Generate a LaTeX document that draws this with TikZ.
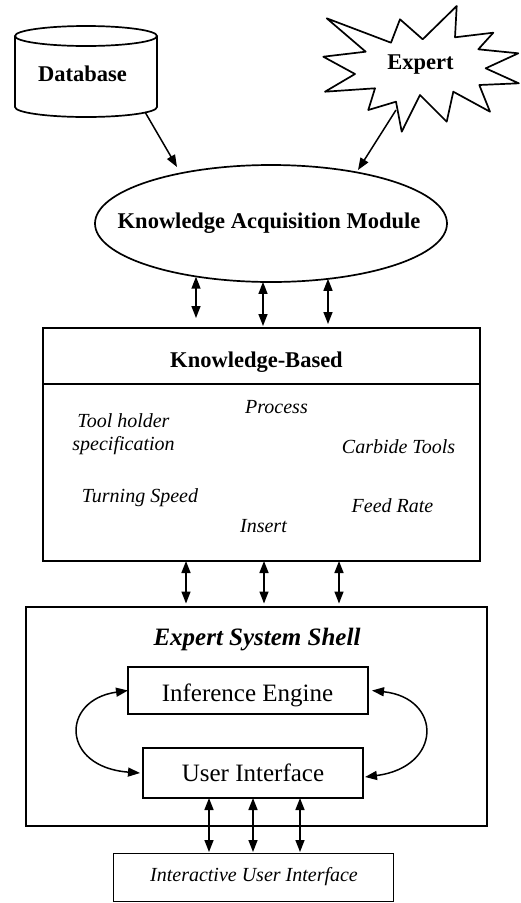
\documentclass[tikz,border=0pt]{standalone}
\usepackage{fontspec}
\setmainfont{Liberation Serif}
\usetikzlibrary{arrows.meta,shapes.geometric}
\tikzset{
  box/.style={draw, line width=1.7pt, inner sep=0pt, outer sep=0pt},
  tip/.tip={Triangle[length=12pt,width=9pt]},
  arr/.style={line width=1.5pt, -tip},
  dbl/.style={line width=1.5pt, tip-tip},
  lbl/.style={anchor=base, inner sep=0pt, outer sep=0pt},
  bl/.style={font=\fontsize{22.5}{27}\selectfont\bfseries},
  itl/.style={font=\fontsize{20}{22.3}\selectfont\itshape},
  rg/.style={font=\fontsize{25}{30}\selectfont},
  bi/.style={font=\fontsize{25}{30}\selectfont\bfseries\itshape},
}
\begin{document}
\begin{tikzpicture}[x=1pt,y=1pt]
\useasboundingbox (0,0) rectangle (520,-903);

% Database cylinder
\draw[line width=1.7pt] (15,-36) -- (15,-107)
  arc[start angle=180,end angle=360,x radius=71,y radius=10] -- (157,-36);
\draw[line width=1.7pt] (86,-36) ellipse [x radius=71, y radius=10];
\node[lbl,bl] (db) at (82.5,-81) {Database};

% Expert star
\draw[line width=1.7pt, line join=round]
  (326.7,-18.3) -- (391,-42.7) -- (400,-19.3) -- (422.7,-39.3) -- (456.7,-6)
  -- (455,-37.3) -- (493.3,-32.7) -- (478.3,-49.3) -- (518.3,-53.3)
  -- (485.7,-68.3) -- (518.8,-83.3) -- (479.3,-85) -- (490,-111.7)
  -- (453.3,-91.7) -- (446.7,-121.7) -- (420,-95) -- (401.7,-131.7)
  -- (396,-101.7) -- (368.3,-110) -- (375,-88.3) -- (325,-91.7)
  -- (355,-74) -- (323.3,-56.7) -- (365.7,-51.7) -- cycle;
\node[lbl,bl] (ex) at (420.5,-69) {Expert};

% Knowledge Acquisition Module
\node[box, ellipse, minimum width=352pt, minimum height=117pt] (ka) at (271,-223.5) {};
\node[lbl,bl] (kat) at (269,-228) {Knowledge Acquisition Module};

% arrows into KAM
\coordinate (dbo) at (145,-112);
\coordinate (kai) at (177,-167);
\coordinate (exo) at (396,-110);
\coordinate (kaj) at (358,-170);
\draw[arr] (dbo) -- (kai);
\draw[arr] (exo) -- (kaj);

% Knowledge-Based box
\node[box, minimum width=437pt, minimum height=233pt] (kb) at (261.5,-444.5) {};
\coordinate (dv) at (0,-384);
\draw[line width=1.7pt] (kb.west |- dv) -- (kb.east |- dv);
\node[lbl,bl] (kbt) at (256.5,-367.7) {Knowledge-Based};
\node[lbl,itl] (l1) at (123.5,-427.7) {Tool holder};
\node[lbl,itl] (l2) at (123.5,-450) {specification};
\node[lbl,itl] (l3) at (276.5,-413) {Process};
\node[lbl,itl] (l4) at (398.5,-453) {Carbide Tools};
\node[lbl,itl] (l5) at (140,-502) {Turning Speed};
\node[lbl,itl] (l6) at (392.5,-512) {Feed Rate};
\node[lbl,itl] (l7) at (263.5,-532) {Insert};

% double arrows KAM <-> KB
\coordinate (a1) at (196,0);
\coordinate (a2) at (263,0);
\coordinate (a3) at (328,0);
\draw[dbl] (ka.-144.8 -| a1) -- ([yshift=10pt]kb.north -| a1);
\draw[dbl] (ka.-97.8 -| a2) -- ([yshift=2pt]kb.north -| a2);
\draw[dbl] (ka.-44.16 -| a3) -- ([yshift=4pt]kb.north -| a3);

% Expert System Shell
\node[box, minimum width=461pt, minimum height=219pt] (ess) at (256.5,-716.5) {};
\node[lbl,bi] (esst) at (257,-645) {Expert System Shell};

\coordinate (b1) at (186,0);
\coordinate (b2) at (264,0);
\coordinate (b3) at (339,0);
\draw[dbl] (kb.south -| b1) -- ([yshift=3.5pt]ess.north -| b1);
\draw[dbl] (kb.south -| b2) -- ([yshift=3.5pt]ess.north -| b2);
\draw[dbl] (kb.south -| b3) -- ([yshift=3.5pt]ess.north -| b3);

% Inference engine and user interface
\node[box, minimum width=240pt, minimum height=47pt] (ie) at (248,-690.5) {};
\node[lbl,rg] (iet) at (247.5,-701.7) {Inference Engine};
\node[box, minimum width=220pt, minimum height=50pt] (ui) at (253,-773) {};
\node[lbl,rg] (uit) at (253,-781.7) {User Interface};

\draw[dbl] (ie.west) .. controls (60.7,-700) and (60.7,-767) .. ([xshift=-3pt]ui.west);
\draw[dbl] ([xshift=4pt]ie.east) .. controls (442.5,-698) and (442.5,-767) .. ([xshift=2pt,yshift=-4pt]ui.east);

% Interactive user interface
\node[box, minimum width=280pt, minimum height=48pt] (iui) at (253.5,-877.5) {};
\node[lbl,itl] (iuit) at (254,-881.7) {Interactive User Interface};

\coordinate (c1) at (209,0);
\coordinate (c2) at (253,0);
\coordinate (c3) at (300,0);
\draw[dbl] (ui.south -| c1) -- ([yshift=1.5pt]iui.north -| c1);
\draw[dbl] (ui.south -| c2) -- ([yshift=1.5pt]iui.north -| c2);
\draw[dbl] (ui.south -| c3) -- ([yshift=1.5pt]iui.north -| c3);
\end{tikzpicture}
\end{document}
